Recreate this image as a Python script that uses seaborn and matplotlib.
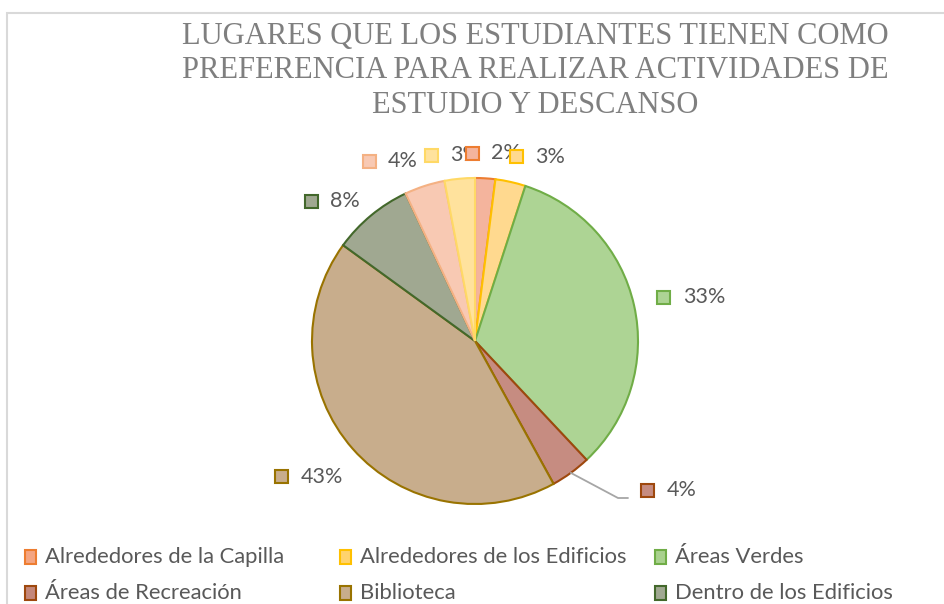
import numpy as np
import matplotlib
matplotlib.use('Agg')
import matplotlib.pyplot as plt
from matplotlib.patches import Rectangle
import seaborn as sns

# data
title_lines = ['LUGARES QUE LOS ESTUDIANTES TIENEN COMO',
               'PREFERENCIA PARA REALIZAR ACTIVIDADES DE',
               'ESTUDIO Y DESCANSO']
slice_values = [2, 3, 33, 4, 43, 8, 4, 3]
slice_labels = ['2%', '3%', '33%', '4%', '43%', '8%', '4%', '3%']
legend_names = ['Alrededores de la Capilla', 'Alrededores de los Edificios', 'Áreas Verdes',
                'Áreas de Recreación', 'Biblioteca', 'Dentro de los Edificios']

# styles
fills = ['#F4B49D', '#FFD98F', '#ADD494', '#C68C81', '#C8AD8C', '#A0A891', '#F8C9B3', '#FFE29D']
edges = ['#ED7D31', '#FFC000', '#70AD47', '#9E480E', '#997300', '#43682B', '#F4B183', '#FFD966']
legend_fills = ['#F4A582', '#FFD36E', '#A9D18E', '#C4877A', '#C8AD8C', '#A0A891']

# label box positions: (radius in units of R, angle in degrees)
label_r = [1.153, 1.157, 1.19, 1.40, 1.45, 1.32, 1.28, 1.17]
label_ang = [90.9, 77.4, 13.1, -40.9, -145.0, 139.5, 120.5, 103.3]

sns.set_theme(style='white')
plt.rcParams['font.family'] = ['Lato', 'DejaVu Sans']

W, H = 944, 604
cx, cy, R = 475, H - 341, 163

fig = plt.figure(figsize=(W / 100, H / 100), dpi=100)
ax = fig.add_axes([0, 0, 1, 1])

wedges, _ = ax.pie(slice_values, colors=fills, startangle=90, counterclock=False,
                   center=(cx, cy), radius=R, frame=True,
                   wedgeprops=dict(linewidth=1.5))
for w, ec in zip(wedges, edges):
    w.set_edgecolor(ec)

ax.set_xlim(0, W)
ax.set_ylim(0, H)
ax.set_aspect('auto')
ax.axis('off')

# data labels
for i, lab in enumerate(slice_labels):
    a = np.deg2rad(label_ang[i])
    bx = cx + label_r[i] * R * np.cos(a)
    by = cy + label_r[i] * R * np.sin(a)
    ax.add_patch(Rectangle((bx - 6.5, by - 6.5), 13, 13, fc=fills[i], ec=edges[i], lw=1.5, zorder=5))
    ax.text(bx + 19, by, lab, ha='left', va='center', fontsize=15.5, color='#595959', zorder=4)

# leader line for the small 4% slice
mid = np.deg2rad(90 - 360 * (sum(slice_values[:3]) + slice_values[3] / 2) / 100)
ax.plot([cx + R * np.cos(mid), cx + 143, cx + 153],
        [cy + R * np.sin(mid), cy - 157, cy - 157], color='#A6A6A6', lw=1.3, zorder=3)

# title
ax.text(535, H - 71, '\n'.join(title_lines), ha='center', va='center',
        family='Liberation Serif', fontsize=22, color='#7F7F7F', linespacing=1.24)

# legend
for k, name in enumerate(legend_names):
    col, row = k % 3, k // 3
    x0 = 25 + 315 * col
    yc = H - (557 + 36 * row)
    ax.add_patch(Rectangle((x0, yc - 7), 11, 14, fc=legend_fills[k], ec=edges[k], lw=1.5))
    ax.text(x0 + 20, yc, name, ha='left', va='center', fontsize=15.8, color='#595959')

# chart border
ax.add_patch(Rectangle((7, -20), W, H - 13 + 20, fill=False, ec='#D9D9D9', lw=1.5))

fig.savefig('out.png', dpi=100)
